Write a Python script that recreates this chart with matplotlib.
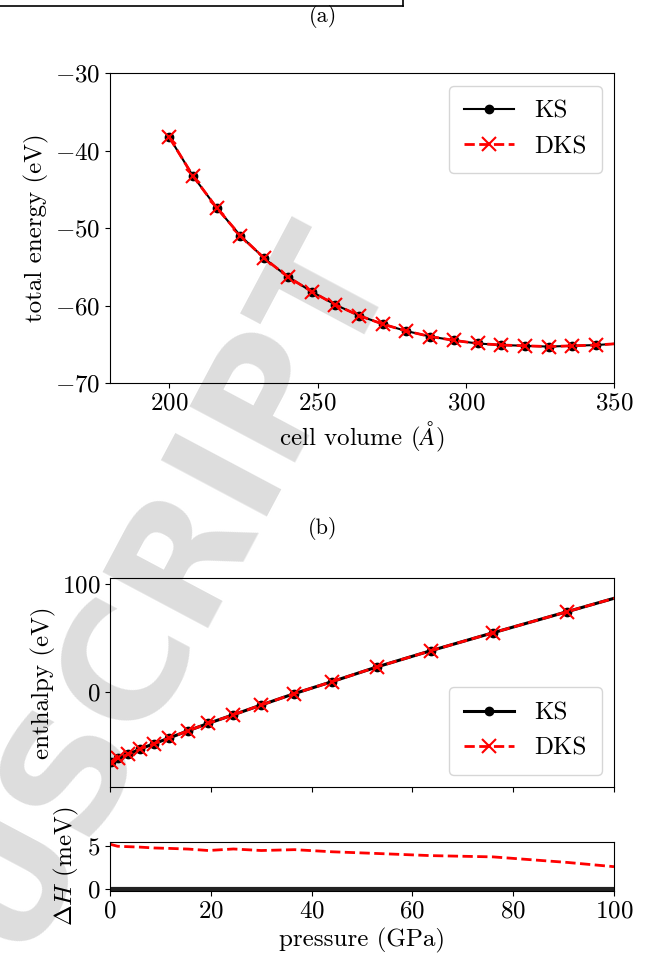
import numpy as np
import matplotlib
matplotlib.use("Agg")
import matplotlib.pyplot as plt
from matplotlib.lines import Line2D

plt.rcParams['font.family'] = ['cmr10', 'DejaVu Serif']
plt.rcParams['mathtext.fontset'] = 'cm'
plt.rcParams['axes.formatter.use_mathtext'] = True
plt.rcParams['axes.unicode_minus'] = True

# ---- data (a): total energy vs cell volume ----
volume = [200, 208, 216, 224, 232, 240, 248, 256, 264, 272, 280, 288, 296,
          304, 312, 320, 328, 336, 344, 352]
energy_ks = [-38.3, -43.3, -47.4, -51.0, -53.9, -56.3, -58.2, -59.9, -61.3,
             -62.4, -63.3, -64.0, -64.5, -64.9, -65.1, -65.2, -65.3, -65.2,
             -65.1, -64.9]
energy_dks = energy_ks

# ---- data (b): enthalpy vs pressure ----
pressure = [0.0, 0.25, 1.5, 3.6, 5.9, 8.7, 11.7, 15.5, 19.5, 24.5, 30.0, 36.6,
            44.1, 53.0, 63.6, 76.0, 90.7, 100.0]
enthalpy_ks = [-66.0, -65.0, -61.3, -57.9, -52.9, -48.0, -42.7, -35.9, -29.1,
               -21.1, -12.1, -1.5, 9.6, 23.2, 38.1, 54.8, 74.3, 86.7]
enthalpy_dks = enthalpy_ks
dH_ks = [0.0] * len(pressure)
dH_dks = [5.3, 5.2, 5.0, 4.95, 4.9, 4.8, 4.75, 4.67, 4.5, 4.68, 4.5, 4.6,
          4.35, 4.15, 3.9, 3.75, 3.1, 2.6]

W, H = 657, 967
fig = plt.figure(figsize=(W / 100, H / 100), dpi=100)

def fx(px):
    return px / W

def fy(py):
    return 1 - py / H

FS = 18

# watermark (behind the axes)
fig.text(fx(165), fy(585), "USCRIPT", rotation=62, fontsize=118,
         color='#d2d2d2', alpha=0.75, ha='center', va='center',
         family='DejaVu Sans', fontweight='bold', zorder=-1)

# top box remnant
fig.add_artist(Line2D([0, fx(403)], [fy(6), fy(6)], color='black', lw=1.2,
                      transform=fig.transFigure))
fig.add_artist(Line2D([fx(403), fx(403)], [fy(6), 1.0], color='black', lw=1.2,
                      transform=fig.transFigure))

fig.text(fx(323), fy(17), "(a)", ha='center', va='center', fontsize=FS - 2)
fig.text(fx(323), fy(528), "(b)", ha='center', va='center', fontsize=FS - 2)

L, R = 110, 614

def add_ax(top, bottom):
    return fig.add_axes([fx(L), fy(bottom), fx(R) - fx(L), fy(top) - fy(bottom)])

# ---- panel (a) ----
ax1 = add_ax(73, 383)
ax1.patch.set_alpha(0)
ax1.plot(volume, energy_ks, '-o', color='black', lw=1.5, ms=6,
         markevery=slice(0, 19), label='KS')
ax1.plot(volume, energy_dks, '--x', color='red', lw=2, ms=10, mew=1.5,
         markevery=slice(0, 19), label='DKS')
ax1.set_xlim(180, 350)
ax1.set_ylim(-70, -30)
ax1.set_xticks([200, 250, 300, 350])
ax1.set_yticks([-70, -60, -50, -40, -30])
ax1.set_xlabel(r"cell volume ($\AA$)", fontsize=FS)
ax1.set_ylabel("total energy (eV)", fontsize=FS)
ax1.tick_params(labelsize=FS)
ax1.legend(loc='upper right', fontsize=FS, borderpad=0.6, handlelength=2.0)

# ---- panel (b) main ----
ax2 = add_ax(578, 787)
ax2.patch.set_alpha(0)
ax2.plot(pressure, enthalpy_ks, '-o', color='black', lw=2.2, ms=6,
         markevery=slice(1, 17), label='KS')
ax2.plot(pressure, enthalpy_dks, '--x', color='red', lw=2, ms=10, mew=1.5,
         markevery=slice(1, 17), label='DKS')
ax2.set_xlim(0, 100)
ax2.set_ylim(-88, 105.5)
ax2.set_xticks([0, 20, 40, 60, 80, 100])
ax2.set_xticklabels([])
ax2.set_yticks([0, 100])
ax2.set_ylabel("enthalpy (eV)", fontsize=FS)
ax2.tick_params(labelsize=FS)
ax2.legend(loc='lower right', fontsize=FS, borderpad=0.6, handlelength=2.0)

# ---- panel (b) difference ----
ax3 = add_ax(842, 891)
ax3.patch.set_alpha(0)
ax3.plot(pressure, dH_ks, '-', color='#222222', lw=3)
ax3.plot(pressure, dH_dks, '--', color='red', lw=2)
ax3.set_xlim(0, 100)
ax3.set_ylim(-0.26, 5.5)
ax3.set_xticks([0, 20, 40, 60, 80, 100])
ax3.set_yticks([0, 5])
ax3.set_xlabel("pressure (GPa)", fontsize=FS)
ax3.set_ylabel(r"$\Delta H$ (meV)", fontsize=FS)
ax3.tick_params(labelsize=FS)

fig.savefig("out.png", dpi=100)
